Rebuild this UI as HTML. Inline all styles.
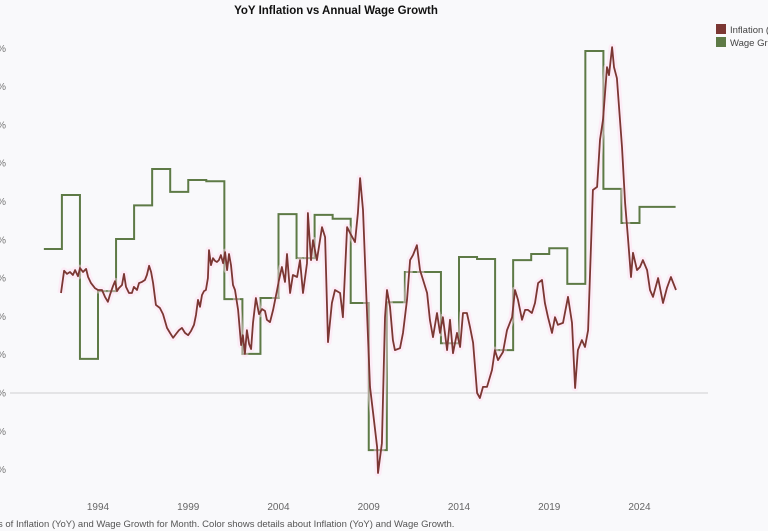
<!DOCTYPE html>
<html><head><meta charset="utf-8"><style>
html,body{margin:0;padding:0;background:#f9f9fb;overflow:hidden}
svg{display:block;font-family:"Liberation Sans",sans-serif}
</style></head><body>
<svg id="chart" width="768" height="531">
<rect width="768" height="531" fill="#f9f9fb"/>
<text x="336" y="14" text-anchor="middle" font-size="11.5" font-weight="bold" fill="#111">YoY Inflation vs Annual Wage Growth</text>
<g id="yaxis"></g>
<g id="xaxis"></g>
<g id="plot"></g>
<g>
<g><rect x="716" y="24" width="10" height="10" fill="#7b3733"/><text x="730" y="33" font-size="9.5" fill="#444">Inflation (YoY)</text></g>
<g><rect x="716" y="37" width="10" height="10" fill="#5e7a46"/><text x="730" y="46" font-size="9.5" fill="#444">Wage Growth</text></g>
</g>
<text x="-2" y="527" font-size="9.5" fill="#555">s of Inflation (YoY) and Wage Growth for Month.  Color shows details about Inflation (YoY) and Wage Growth.</text>
</svg>
<script>
const yTicks=[9,8,7,6,5,4,3,2,1,0,-1,-2];
const xTicks=[1994,1999,2004,2009,2014,2019,2024];
const wageYears=[1991,1992,1993,1994,1995,1996,1997,1998,1999,2000,2001,2002,2003,2004,2005,2006,2007,2008,2009,2010,2011,2012,2013,2014,2015,2016,2017,2018,2019,2020,2021,2022,2023,2024,2025];
const wageValues=[3.76,5.17,0.89,2.66,4.02,4.9,5.85,5.25,5.56,5.53,2.45,1.02,2.48,4.67,3.52,4.65,4.55,2.35,-1.49,2.37,3.16,3.16,1.3,3.55,3.5,1.12,3.47,3.63,3.78,2.85,8.93,5.33,4.44,4.86,4.86];
const inflDates=[1991.95,1992.12,1992.28,1992.45,1992.61,1992.73,1992.89,1993.0,1993.17,1993.34,1993.45,1993.61,1993.83,1994.0,1994.22,1994.39,1994.55,1994.66,1994.83,1994.94,1995.05,1995.16,1995.33,1995.44,1995.55,1995.72,1995.88,1995.99,1996.16,1996.27,1996.44,1996.6,1996.71,1996.83,1996.94,1997.05,1997.21,1997.43,1997.6,1997.82,1997.99,1998.16,1998.32,1998.49,1998.65,1998.82,1998.99,1999.15,1999.32,1999.43,1999.54,1999.65,1999.76,1999.87,1999.98,2000.09,2000.15,2000.26,2000.37,2000.48,2000.59,2000.7,2000.81,2000.93,2001.04,2001.15,2001.26,2001.37,2001.48,2001.59,2001.76,2001.93,2002.03,2002.14,2002.25,2002.37,2002.48,2002.59,2002.75,2002.92,2003.09,2003.25,2003.36,2003.53,2003.7,2003.81,2003.92,2004.03,2004.19,2004.36,2004.47,2004.64,2004.8,2005.03,2005.19,2005.36,2005.58,2005.63,2005.8,2005.91,2006.13,2006.41,2006.58,2006.74,2006.96,2007.13,2007.41,2007.57,2007.8,2007.96,2008.24,2008.4,2008.52,2008.68,2008.9,2009.07,2009.24,2009.46,2009.51,2009.73,2009.9,2010.01,2010.18,2010.34,2010.45,2010.73,2010.9,2011.12,2011.29,2011.45,2011.67,2011.84,2012.01,2012.23,2012.39,2012.56,2012.78,2012.95,2013.11,2013.34,2013.5,2013.67,2013.89,2014.06,2014.22,2014.44,2014.61,2014.78,2015.0,2015.16,2015.33,2015.55,2015.83,2015.99,2016.16,2016.44,2016.66,2016.94,2017.1,2017.27,2017.49,2017.66,2017.82,2018.04,2018.21,2018.38,2018.6,2018.76,2018.93,2019.15,2019.32,2019.48,2019.76,2020.04,2020.26,2020.43,2020.59,2020.81,2020.98,2021.15,2021.42,2021.65,2021.81,2021.98,2022.2,2022.31,2022.48,2022.59,2022.75,2023.03,2023.2,2023.36,2023.53,2023.64,2023.86,2024.03,2024.19,2024.42,2024.58,2024.75,2025.03,2025.3,2025.52,2025.74,2026.02];
const inflValues=[2.61,3.19,3.11,3.16,3.08,3.21,3.05,3.26,3.16,3.24,3.03,2.87,2.74,2.69,2.69,2.51,2.38,2.56,2.79,2.92,2.66,2.74,2.82,3.11,2.77,2.61,2.61,2.77,2.69,2.87,2.9,2.95,3.08,3.32,3.16,2.87,2.3,2.22,2.06,1.7,1.57,1.44,1.54,1.64,1.7,1.57,1.51,1.62,1.78,2.04,2.43,2.25,2.56,2.66,2.69,3.0,3.73,3.34,3.52,3.45,3.42,3.47,3.6,3.39,3.68,3.21,3.63,3.34,2.82,2.69,2.17,1.25,1.51,1.02,1.64,1.28,1.15,1.83,2.48,2.06,2.19,2.14,1.91,1.85,2.17,2.43,2.69,2.95,3.29,2.9,3.63,2.61,3.08,3.03,3.47,2.61,3.39,4.7,3.47,3.99,3.47,4.33,4.07,1.33,2.35,2.69,2.61,1.98,4.33,4.18,3.94,4.7,5.61,4.78,2.17,0.16,-0.52,-1.41,-2.09,-1.31,1.98,2.69,2.25,1.38,1.12,1.17,1.57,2.43,3.47,3.6,3.86,3.21,2.95,2.61,1.91,1.46,2.09,1.57,1.98,1.12,1.91,1.04,1.57,1.2,2.09,2.09,1.72,1.31,0.0,-0.13,0.16,0.16,0.6,1.12,0.86,1.07,1.64,1.98,2.69,2.43,1.91,2.17,2.17,2.09,2.35,2.87,2.95,2.35,1.98,1.57,1.98,1.78,1.83,2.51,1.83,0.13,1.12,1.38,1.2,1.64,5.3,5.38,6.61,7.13,8.51,8.3,9.03,8.51,8.22,6.42,4.96,4.07,3.03,3.66,3.21,3.29,3.47,3.21,2.69,2.51,3.0,2.35,2.74,3.03,2.69];

const NS="http://www.w3.org/2000/svg";
const xS=yr=>98+(yr-1994)*18.05;
const yS=v=>393-v*38.3;
function mk(tag,attrs,parent){const e=document.createElementNS(NS,tag);for(const k in attrs)e.setAttribute(k,attrs[k]);parent.appendChild(e);return e;}
const yax=document.getElementById('yaxis'),xax=document.getElementById('xaxis'),plot=document.getElementById('plot');
yTicks.forEach(v=>{
  const t=mk('text',{x:6,y:yS(v)+3.5,'text-anchor':'end','font-size':10,fill:'#777'},yax);
  t.textContent=v+'%';
  
  
});
xTicks.forEach(y=>{
  const t=mk('text',{x:xS(y),y:510,'text-anchor':'middle','font-size':10,fill:'#666'},xax);
  t.textContent=y;
  
  
});
const zl=mk('line',{x1:10,x2:708,y1:yS(0),y2:yS(0),stroke:'#d0d0d0','stroke-width':1},plot);


let wd='';
wageYears.forEach((yr,i)=>{const y=yS(wageValues[i]);wd+=(i?'L':'M')+xS(yr)+','+y+'L'+xS(yr+1)+','+y;});
const wl=mk('path',{d:wd,fill:'none',stroke:'#5e7a46','stroke-width':2,'stroke-linejoin':'miter'},plot);


let id='';
inflDates.forEach((d,i)=>{id+=(i?'L':'M')+xS(d).toFixed(1)+','+yS(inflValues[i]).toFixed(1);});
const glow=mk('path',{d:id,fill:'none',stroke:'#ffdcef','stroke-width':7,'stroke-opacity':0.45,'stroke-linejoin':'round'},plot);


const il=mk('path',{d:id,fill:'none',stroke:'#7b3733','stroke-width':1.8,'stroke-linejoin':'round'},plot);


</script>
</body></html>
